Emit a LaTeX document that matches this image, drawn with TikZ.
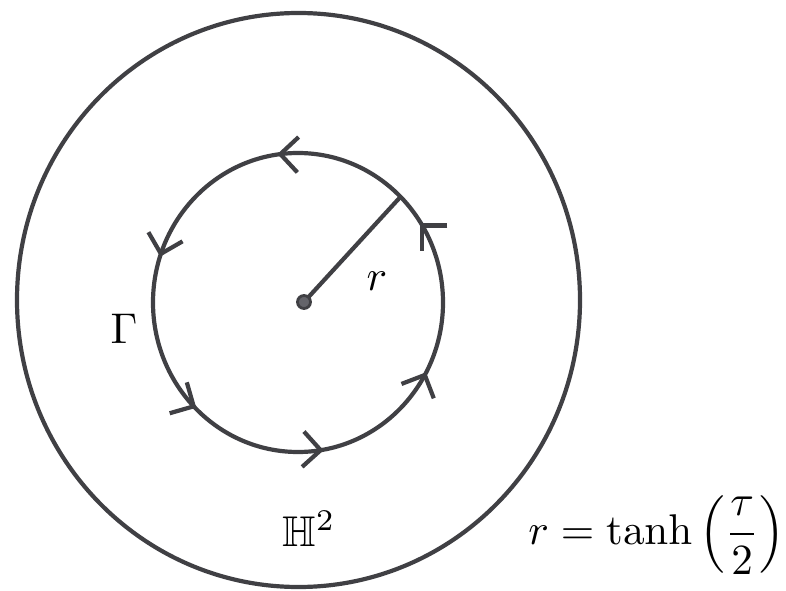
\documentclass[tikz,border=0pt]{standalone}
\usepackage{graphicx}
\usepackage{amsmath,amssymb}
\usetikzlibrary{calc}
\definecolor{ink}{RGB}{64,64,68}
\definecolor{dotfill}{RGB}{100,100,106}
\newcommand{\bigtxt}[1]{\scalebox{4.3}{#1}}
\tikzset{
  curve/.style={draw=ink, line width=4.2pt},
  chev/.style={draw=ink, line width=4.2pt, line cap=butt, line join=miter},
  lbl/.style={inner sep=0pt},
}
\begin{document}
\begin{tikzpicture}[x=1pt,y=1pt]
\useasboundingbox (0,0) rectangle (786,590);
% outer disk
\coordinate (O) at (298.5,290);
\draw[curve] (O) ellipse [x radius=281.5, y radius=287];
% inner circle Gamma
\coordinate (C) at (298,287.5);
\draw[curve] (C) ellipse [x radius=145, y radius=149.5];
% radius
\coordinate (D) at (304,288);
\coordinate (P) at ($(C)+(45:145 and 149.5)$);
\draw[curve] (D) -- (P);
\filldraw[draw=ink, fill=dotfill, line width=2.8pt] (D) circle (6.5);
% chevrons on Gamma
\foreach \a/\o in {31/45, 97/88, 161/165, 224/241, 279/267, 331/336} {
  \pgfmathsetmacro{\armA}{\o-45}
  \pgfmathsetmacro{\armB}{\o-135}
  \coordinate (t\a) at ($(C)+(\a:145 and 149.5)$);
  \draw[chev] ($(t\a)+(\armA:25)$) -- (t\a) -- ($(t\a)+(\armB:25)$);
}
% labels
\node[lbl] (rl) at (377,309) {\bigtxt{$r$}};
\node[lbl] (gl) at (124,261) {\bigtxt{$\Gamma$}};
\node[lbl] (hl) at (309,61) {\bigtxt{$\mathbb{H}^2$}};
\node[lbl, anchor=east] (fl) at (785,55) {\bigtxt{$\displaystyle r=\tanh\left(\frac{\tau}{2}\right)$}};
\end{tikzpicture}
\end{document}
